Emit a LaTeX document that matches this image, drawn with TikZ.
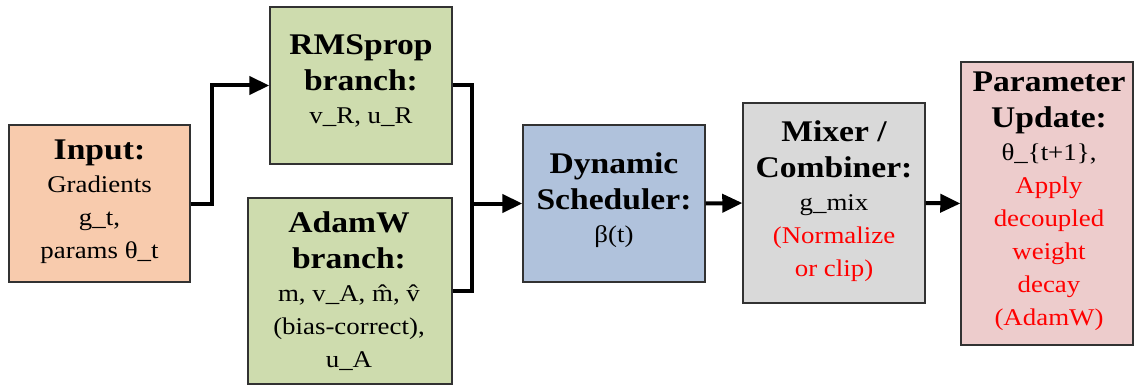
\documentclass[tikz,border=0pt]{standalone}
\usepackage{fontspec}
\setmainfont{Liberation Serif}[FakeStretch=1.12]
\usetikzlibrary{arrows.meta}

\definecolor{inpfill}{RGB}{248,203,173}
\definecolor{brfill}{RGB}{206,220,174}
\definecolor{schfill}{RGB}{176,194,220}
\definecolor{mixfill}{RGB}{217,217,217}
\definecolor{updfill}{RGB}{237,204,204}
\definecolor{edge}{RGB}{50,50,50}

% heading lines and body lines
\newcommand{\hd}{\fontsize{30}{33}\selectfont\bfseries}
\newcommand{\bd}{\fontsize{24}{33}\selectfont\mdseries}

\begin{document}
\begin{tikzpicture}[x=1pt,y=-1pt,
  box/.style={draw=edge, line width=1.4pt, inner sep=0pt},
  lbl/.style={align=center, inner sep=0pt, font=\bd},
  flow/.style={line width=4pt, -{Triangle[length=20pt,width=18pt]}},
  link/.style={line width=4pt}]

\useasboundingbox (0,0) rectangle (1135,385);

% blocks
\node[box, fill=inpfill, minimum width=181pt, minimum height=157pt] (inp) at (99.5,203.5) {};
\node[box, fill=brfill,  minimum width=182pt, minimum height=157pt] (rms) at (361,85.5) {};
\node[box, fill=brfill,  minimum width=204pt, minimum height=186pt] (adam) at (350,291) {};
\node[box, fill=schfill, minimum width=182pt, minimum height=157pt] (sch) at (614,203.5) {};
\node[box, fill=mixfill, minimum width=182pt, minimum height=200pt] (mix) at (834,203) {};
\node[box, fill=updfill, minimum width=172pt, minimum height=283pt] (upd) at (1047,203.5) {};

% block texts
\node[lbl] (inpT) at (99.5,201.5) {\hd Input:\\Gradients\\g\_t,\\params θ\_t};
\node[lbl] (rmsT) at (361,81) {\hd RMSprop\\[3pt]\hd branch:\\v\_R, u\_R};
\node[lbl] (adamT) at (349,291) {\hd AdamW\\[3pt]\hd branch:\\m, v\_A, \^{m}, \^{v}\\(bias-correct),\\u\_A};
\node[lbl] (schT) at (614,200) {\hd Dynamic\\[3pt]\hd Scheduler:\\β(t)};
\node[lbl] (mixT) at (834,201.5) {\hd Mixer /\\[3pt]\hd Combiner:\\g\_mix\\\color{red}(Normalize\\\color{red}or clip)};
\node[lbl] (updT) at (1049,201.5) {\hd Parameter\\[3pt]\hd Update:\\θ\_\{t+1\},\\\color{red}Apply\\\color{red}decoupled\\\color{red}weight\\\color{red}decay\\\color{red}(AdamW)};

% connectors
\coordinate (jn) at (sch.west -| 472,0);
\draw[flow] (inp.east) -- ++(21,0) |- (rms.west);
\draw[link] (rms.east) -| (jn) |- (adam.east);
\draw[flow] (jn) -- (sch.west);
\draw[flow] (sch.east) -- (mix.west);
\draw[flow] (mix.east) -- (upd.west);
\end{tikzpicture}
\end{document}
